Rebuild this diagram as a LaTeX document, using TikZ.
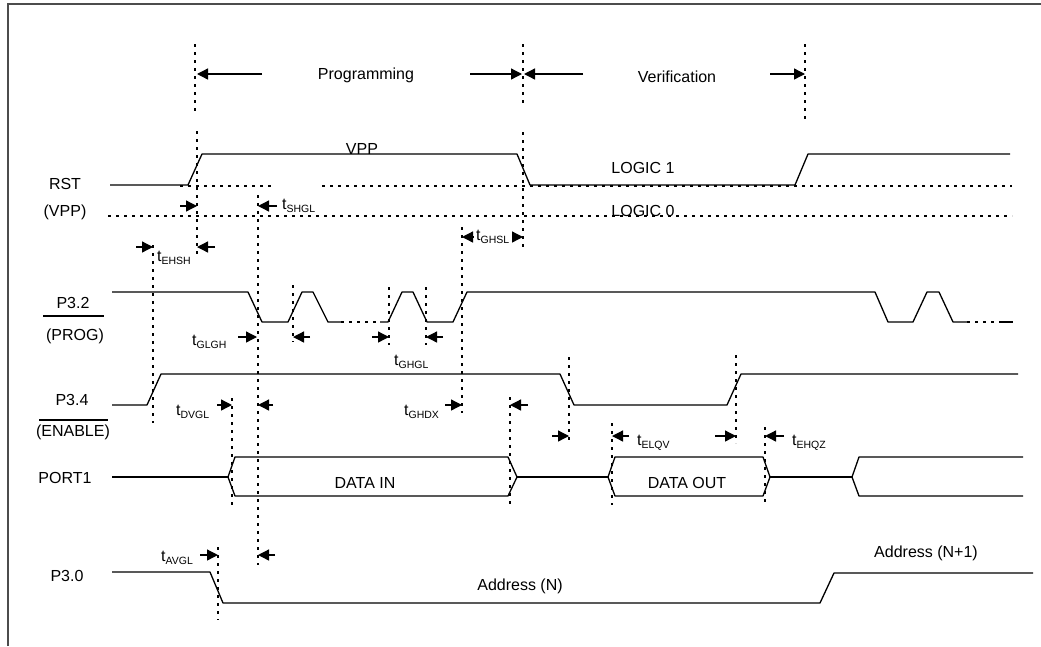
\documentclass[tikz,border=0pt]{standalone}
\usepackage{fontspec}
\setmainfont{Liberation Sans}
\usetikzlibrary{arrows.meta}
\newcommand\tlab[1]{t\raisebox{-3pt}{\fontsize{10.5}{11}\selectfont #1}}
\begin{document}
\begin{tikzpicture}[x=1pt,y=-1pt,
  wave/.style={line width=1.3pt, line join=round},
  dotl/.style={line width=2.6pt, dash pattern=on 3pt off 5pt},
  arr/.style={line width=1.3pt, -{Triangle[length=11pt,width=11pt]}},
  lbl/.style={font=\fontsize{16}{18}\selectfont, inner sep=0pt},
  framel/.style={line width=1.8pt, draw=black!70}]
\useasboundingbox (0,0) rectangle (1041,646);
% frame
\draw[framel] (8,646) -- (8,4) -- (1041,4);

% phase markers
\draw[dotl] (195,44) -- (195,113);
\draw[dotl] (523,44) -- (523,107);
\draw[dotl] (805,44) -- (805,122);
\draw[arr] (262,74) -- (197,74);
\draw[arr] (470,74) -- (522,74);
\draw[arr] (583,74) -- (524,74);
\draw[arr] (770,74) -- (805,74);
\node[lbl] (prog) at (366,75) {Programming};
\node[lbl] (verif) at (677,77) {Verification};

% RST
\draw[wave] (110,185) -- (188,185) -- (202,154) -- (517,154) -- (530,185) -- (795,185) -- (808,154) -- (1010,154);
\draw[dotl] (180,186) -- (273,186);
\draw[dotl] (322,186) -- (1012,186);
\draw[dotl] (108,216) -- (1012,216);
\node[lbl] (vpp) at (362,149) {VPP};
\node[lbl] (l1) at (643,168) {LOGIC 1};
\node[lbl] (l0) at (643,211) {LOGIC 0};
\node[lbl] (rst) at (65,184) {RST};
\node[lbl] (rstb) at (65,212) {(VPP)};

% RST timing
\draw[dotl] (197,131) -- (197,255);
\draw[dotl] (523,132) -- (523,250);
\draw[dotl] (258,195) -- (258,565);
\draw[dotl] (153,245) -- (153,423);
\draw[dotl] (462,227) -- (462,413);
\draw[arr] (180,206) -- (197,206);
\draw[arr] (277,206) -- (258,206);
\node[lbl, anchor=west] (tshgl) at (282,206) {\tlab{SHGL}};
\draw[arr] (136,247) -- (153,247);
\draw[arr] (215,247) -- (197,247);
\node[lbl, anchor=west] (tehsh) at (157,258) {\tlab{EHSH}};
\draw[arr] (473,237) -- (462,237);
\draw[arr] (512,237) -- (523,237);
\node[lbl, anchor=west] (tghsl) at (476,237) {\tlab{GHSL}};

% P3.2
\draw[wave] (112,292) -- (248,292) -- (262,322) -- (288,322) -- (302,292) -- (313,292) -- (328,322) -- (341,322);
\draw[dotl] (341,322) -- (380,322);
\draw[wave] (380,322) -- (388,322) -- (402,292) -- (413,292) -- (427,322) -- (453,322) -- (467,292) -- (875,292) -- (888,322) -- (913,322) -- (927,292) -- (939,292) -- (953,322) -- (967,322);
\draw[dotl] (967,322) -- (1000,322);
\draw[wave] (1000,322) -- (1013,322);
\node[lbl] (p32) at (73,303) {P3.2};
\draw[wave] (43,316) -- (104,316);
\node[lbl] (p32b) at (75,336) {(PROG)};
\draw[dotl] (293,285) -- (293,342);
\draw[dotl] (389,287) -- (389,345);
\draw[dotl] (426,287) -- (426,345);
\draw[arr] (238,337) -- (257,337);
\draw[arr] (310,337) -- (293,337);
\node[lbl, anchor=west] (tglgh) at (192,342) {\tlab{GLGH}};
\draw[arr] (372,337) -- (389,337);
\draw[arr] (443,337) -- (426,337);
\node[lbl, anchor=west] (tghgl) at (394,362) {\tlab{GHGL}};

% P3.4
\draw[wave] (112,405) -- (147,405) -- (161,374) -- (560,374) -- (574,405) -- (727,405) -- (741,374) -- (1018,374);
\node[lbl] (p34) at (72,400) {P3.4};
\draw[wave] (39,420) -- (108,420);
\node[lbl] (p34b) at (73,432) {(ENABLE)};
\draw[dotl] (232,398) -- (232,508);
\draw[dotl] (510,397) -- (510,508);
\draw[dotl] (569,357) -- (569,443);
\draw[dotl] (736,355) -- (736,443);
\draw[dotl] (612,423) -- (612,505);
\draw[dotl] (765,427) -- (765,505);
\draw[arr] (217,405) -- (232,405);
\draw[arr] (273,405) -- (258,405);
\node[lbl, anchor=west] (tdvgl) at (176,412) {\tlab{DVGL}};
\draw[arr] (445,405) -- (462,405);
\draw[arr] (528,405) -- (510,405);
\node[lbl, anchor=west] (tghdx) at (404,412) {\tlab{GHDX}};
\draw[arr] (552,436) -- (569,436);
\draw[arr] (629,436) -- (612,436);
\node[lbl, anchor=west] (telqv) at (637,443) {\tlab{ELQV}};
\draw[arr] (715,436) -- (736,436);
\draw[arr] (784,436) -- (765,436);
\node[lbl, anchor=west] (tehqz) at (792,443) {\tlab{EHQZ}};

% PORT1
\draw[wave] (112,477) -- (228,477);
\draw[wave] (228,477) -- (235,457) -- (508,457) -- (517,477) -- (508,496) -- (235,496) -- cycle;
\draw[wave] (517,477) -- (608,477);
\draw[wave] (608,477) -- (615,457) -- (763,457) -- (770,477) -- (763,496) -- (615,496) -- cycle;
\draw[wave] (770,477) -- (852,477);
\draw[wave] (1023,457) -- (859,457) -- (852,477) -- (859,496) -- (1023,496);
\node[lbl] (port1) at (65,478) {PORT1};
\node[lbl] (din) at (365,483) {DATA IN};
\node[lbl] (dout) at (687,483) {DATA OUT};

% P3.0
\draw[wave] (112,572) -- (210,572) -- (223,603) -- (820,603) -- (834,573) -- (1033,573);
\node[lbl] (p30) at (67,576) {P3.0};
\node[lbl] (addrn) at (520,586) {Address (N)};
\node[lbl] (addrn1) at (926,553) {Address (N+1)};
\draw[dotl] (218,547) -- (218,620);
\draw[arr] (200,555) -- (218,555);
\draw[arr] (275,555) -- (258,555);
\node[lbl, anchor=west] (tavgl) at (161,558) {\tlab{AVGL}};
\end{tikzpicture}
\end{document}
